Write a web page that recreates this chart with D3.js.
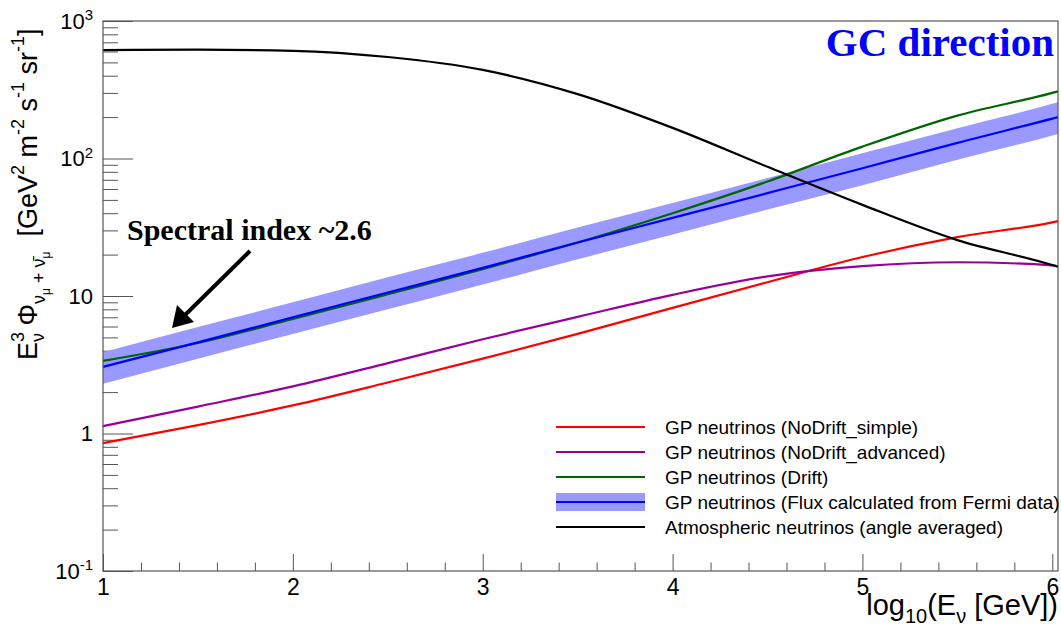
<!DOCTYPE html>
<html>
<head>
<meta charset="utf-8">
<script src="https://cdn.jsdelivr.net/npm/d3@7"></script>
<style>
body { margin: 0; background: #fff; }
text { font-family: "Liberation Sans", Arial, sans-serif; }
</style>
</head>
<body>
<svg id="chart" width="1061" height="632"></svg>
<script>

// Data (x = log10(E / GeV), y = E^3 * flux)
var logE = [1, 1.5, 2, 2.5, 3, 3.5, 4, 4.5, 5, 5.5, 6, 6.03];

var noDriftSimple   = [0.85, 1.15, 1.6, 2.35, 3.5, 5.3, 8.2, 12.6, 19.2, 26.8, 34.3, 35];
var noDriftAdvanced = [1.13, 1.57, 2.2, 3.25, 4.85, 7.05, 10.2, 13.9, 16.5, 17.6, 16.7, 16.4];
var drift           = [3.37, 4.55, 6.8, 10.3, 15.7, 24.5, 40, 68, 122, 205, 300, 308];
var fermi           = [3.05, 4.6, 7.0, 10.6, 16.0, 24.5, 37, 56, 85, 130, 195, 200];
var fermiUpper      = [3.9, 5.95, 9.0, 13.7, 20.6, 31.5, 47.5, 72, 109, 166, 250, 257];
var fermiLower      = [2.3, 3.5, 5.3, 8.0, 12.1, 18.5, 28, 42.5, 64, 98, 147, 151];
var atmospheric     = [615, 619, 607, 547, 441, 294, 167, 87, 46, 25.5, 16.8, 16.3];

var xMajorTicks = [1, 2, 3, 4, 5, 6];
var yMajorTicks = [0.1, 1, 10, 100, 1000];

var legendLabels = [
	"GP neutrinos (NoDrift_simple)",
	"GP neutrinos (NoDrift_advanced)",
	"GP neutrinos (Drift)",
	"GP neutrinos (Flux calculated from Fermi data)",
	"Atmospheric neutrinos (angle averaged)"
];

var svg = d3.select("#chart");

var frame = { left: 103, right: 1058, top: 21, bottom: 571 };

var x = d3.scaleLinear().domain([1, 6.03]).range([frame.left, frame.right]);
var y = d3.scaleLog().domain([0.1, 1000]).range([frame.bottom, frame.top]);

// Minor ticks

var xMinor = d3.range(1.2, 6.01, 0.2).filter(function (v) {
	return Math.abs(v - Math.round(v)) > 0.01;
});

var yMinor = [];
[-1, 0, 1, 2].forEach(function (e) {
	for (var k = 2; k <= 9; k++) {
		yMinor.push(k * Math.pow(10, e));
	}
});

svg.append("g")
.attr("transform", "translate(0," + frame.bottom + ")")
.call(d3.axisBottom(x).tickValues(xMinor).tickSize(-8.5).tickFormat(""))
.call(function (g) { g.select(".domain").remove(); });

svg.append("g")
.attr("class", "x-major")
.attr("transform", "translate(0," + frame.bottom + ")")
.call(d3.axisBottom(x).tickValues(xMajorTicks).tickSize(-17).tickPadding(8).tickFormat(d3.format("d")))
.call(function (g) { g.select(".domain").remove(); });

svg.append("g")
.attr("transform", "translate(" + frame.left + ",0)")
.call(d3.axisLeft(y).tickValues(yMinor).tickSize(-15).tickFormat(""))
.call(function (g) { g.select(".domain").remove(); });

svg.append("g")
.attr("class", "y-major")
.attr("transform", "translate(" + frame.left + ",0)")
.call(d3.axisLeft(y).tickValues(yMajorTicks).tickSize(-30).tickPadding(10).tickFormat(function (d) { return d; }))
.call(function (g) { g.select(".domain").remove(); });

svg.selectAll(".tick line").attr("stroke", "#555");

svg.selectAll(".x-major .tick text")
.attr("font-size", "23px")
.attr("fill", "#000")
.style("font-family", "Liberation Sans, Arial, sans-serif");

svg.selectAll(".y-major .tick text")
.attr("font-size", "22px")
.attr("fill", "#000")
.style("font-family", "Liberation Sans, Arial, sans-serif")
.each(function (d) {
	var e = Math.round(Math.log10(d));
	var t = d3.select(this);
	if (e === 0 || e === 1) {
		return;
	}
	t.text("10");
	t.append("tspan").attr("dy", "-0.55em").attr("font-size", "15px").text(e);
});

// Fermi band

var band = d3.area()
.x(function (d, i) { return x(logE[i]); })
.y0(function (d, i) { return y(fermiLower[i]); })
.y1(function (d, i) { return y(fermiUpper[i]); })
.curve(d3.curveMonotoneX);

svg.append("path")
.datum(logE)
.attr("d", band)
.attr("fill", "#9999ff");

// Curves

var line = d3.line()
.x(function (d, i) { return x(logE[i]); })
.y(function (d) { return y(d); })
.curve(d3.curveMonotoneX);

var curves = [
	{ values: noDriftSimple, color: "#ff0000" },
	{ values: noDriftAdvanced, color: "#990099" },
	{ values: drift, color: "#006600" },
	{ values: fermi, color: "#0000ff" },
	{ values: atmospheric, color: "#000000" }
];

curves.forEach(function (c) {
	svg.append("path")
	.datum(c.values)
	.attr("d", line)
	.attr("fill", "none")
	.attr("stroke", c.color)
	.attr("stroke-width", 2.2);
});

// Frame

svg.append("rect")
.attr("x", frame.left)
.attr("y", frame.top)
.attr("width", frame.right - frame.left)
.attr("height", frame.bottom - frame.top)
.attr("fill", "none")
.attr("stroke", "#555")
.attr("stroke-width", 1.2);

// Legend

var legend = svg.append("g");

legendLabels.forEach(function (label, i) {
	var ly = 427 + i * 25;
	if (i === 3) {
		legend.append("rect")
		.attr("x", 556).attr("y", ly - 9).attr("width", 89).attr("height", 18)
		.attr("fill", "#9999ff");
	}
	legend.append("line")
	.attr("x1", 556).attr("x2", 645)
	.attr("y1", ly).attr("y2", ly)
	.attr("stroke", curves[i].color)
	.attr("stroke-width", 2);
	legend.append("text")
	.attr("x", 665)
	.attr("y", ly + 7)
	.attr("font-size", "19px")
	.text(label);
});

// Y axis title

var yTitle = svg.append("text")
.attr("transform", "translate(37,360) rotate(-90)")
.attr("font-size", "27px");

var yParts = [
	{ t: "E", s: 27, off: 0 },
	{ t: "3", s: 18, off: -13 },
	{ t: "ν", s: 18, off: 7, dx: -10 },
	{ t: " Φ", s: 27, off: 0 },
	{ t: "ν", s: 18, off: 8 },
	{ t: "μ", s: 12, off: 13 },
	{ t: " + ", s: 18, off: 8 },
	{ t: "ν̄", s: 18, off: 8 },
	{ t: "μ", s: 12, off: 13 },
	{ t: "  [GeV", s: 27, off: 0 },
	{ t: "2", s: 18, off: -13 },
	{ t: " m", s: 27, off: 0 },
	{ t: "-2", s: 18, off: -13 },
	{ t: " s", s: 27, off: 0 },
	{ t: "-1", s: 18, off: -13 },
	{ t: " sr", s: 27, off: 0 },
	{ t: "-1", s: 18, off: -13 },
	{ t: "]", s: 27, off: 0 }
];

var prevOff = 0;
yParts.forEach(function (p) {
	var ts = yTitle.append("tspan")
	.attr("font-size", p.s + "px")
	.attr("dy", p.off - prevOff)
	.style("white-space", "pre")
	.text(p.t);
	if (p.dx) {
		ts.attr("dx", p.dx);
	}
	prevOff = p.off;
});

// X axis title

var xTitle = svg.append("text")
.attr("x", frame.right)
.attr("y", 615)
.attr("text-anchor", "end")
.attr("font-size", "29px");

xTitle.append("tspan").text("log");
xTitle.append("tspan").attr("font-size", "20px").attr("dy", 8).text("10");
xTitle.append("tspan").attr("dy", -8).text("(E");
xTitle.append("tspan").attr("font-size", "20px").attr("dy", 8).text("ν");
xTitle.append("tspan").attr("dy", -8).style("white-space", "pre").text(" [GeV])");

// Annotations

svg.append("text")
.attr("x", 1054)
.attr("y", 56)
.attr("text-anchor", "end")
.attr("font-size", "41px")
.attr("font-weight", "bold")
.attr("fill", "#0000ff")
.style("font-family", "Liberation Serif, Times New Roman, serif")
.text("GC direction");

svg.append("text")
.attr("x", 127)
.attr("y", 240)
.attr("font-size", "30px")
.attr("font-weight", "bold")
.style("font-family", "Liberation Serif, Times New Roman, serif")
.text("Spectral index ~2.6");

svg.append("line")
.attr("x1", 250).attr("y1", 251)
.attr("x2", 183).attr("y2", 317)
.attr("stroke", "#000")
.attr("stroke-width", 4);

svg.append("path")
.attr("d", "M172,328 L177,305 L194,322 Z")
.attr("fill", "#000");

</script>
</body>
</html>
